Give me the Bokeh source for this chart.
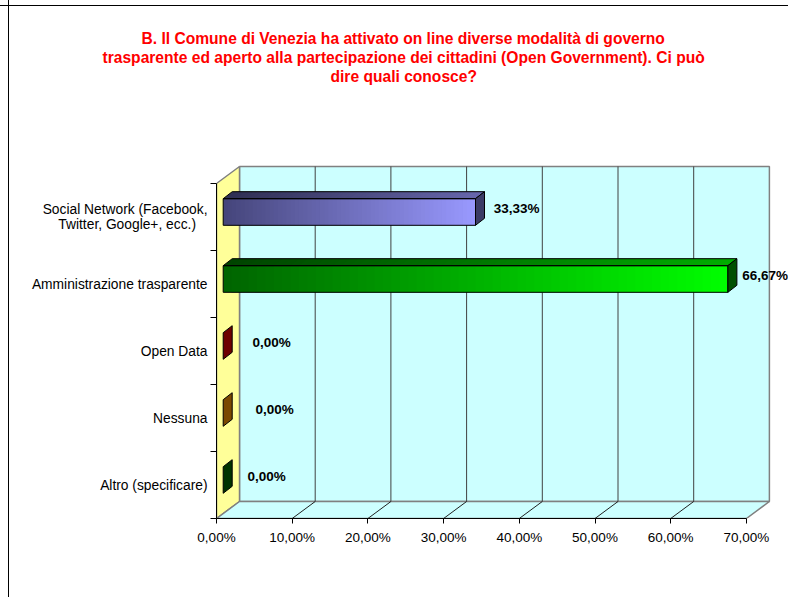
import numpy as np
from bokeh.plotting import figure
from bokeh.models import Range1d, FixedTicker, Title
from bokeh.embed import file_html
from bokeh.resources import INLINE
from bokeh.core.properties import value

# ---------------- data ----------------
categories = [
    "Social Network (Facebook,\nTwitter, Google+, ecc.)\u00a0\u00a0\u00a0",
    "Amministrazione trasparente",
    "Open Data",
    "Nessuna",
    "Altro (specificare)",
]
values = [33.33, 66.67, 0.0, 0.0, 0.0]
value_labels = ["33,33%", "66,67%", "0,00%", "0,00%", "0,00%"]
x_ticks = [0, 10, 20, 30, 40, 50, 60, 70]
x_tick_labels = ["0,00%", "10,00%", "20,00%", "30,00%", "40,00%", "50,00%", "60,00%", "70,00%"]
title_lines = [
    "B. Il Comune di Venezia ha attivato on line diverse modalità di governo",
    "trasparente ed aperto alla partecipazione dei cittadini (Open Government). Ci può",
    "dire quali conosce?",
]

# ---------------- styles / layout ----------------
front_start = ["#45457a", "#006400", "#7a0000", "#7a4a00", "#003300"]
front_end = ["#9999ff", "#00ff00", "#b00000", "#b07000", "#006600"]
side_colors = ["#3b3b66", "#005000", "#6e0000", "#7a4800", "#003300"]
label_nudge_px = [25, 21, 36, 39, 31]
title_offsets = [-75, -114, 114]
FONT = "Liberation Sans"

W, H = 788, 597
FL, FB, FT, FR = 216, 518, 84, 788     # frame left/bottom/top/right in canvas px
PX_X = 7.57   # pixels per percent
PX_Y = 67.0   # pixels per category band
WX, WY = 23 / PX_X, 17 / PX_Y          # wall depth
FX, FY = 6.7 / PX_X, 5 / PX_Y          # bar front offset
BX, BY = 15.7 / PX_X, 12 / PX_Y        # bar back offset
HH = 13.3 / PX_Y                       # half bar height

n = len(categories)
centers = [n - i - 0.5 for i in range(n)]
xmax_val = x_ticks[-1]

p = figure(width=W, height=H, output_backend="svg", toolbar_location=None,
           x_range=Range1d(0, (FR - FL) / PX_X), y_range=Range1d(0, (FB - FT) / PX_Y),
           min_border_left=FL, min_border_right=W - FR, min_border_top=FT, min_border_bottom=H - FB)
p.grid.visible = False
p.outline_line_color = None
p.background_fill_color = None
p.border_fill_color = None
p.styles = {
    "background-color": "white",
    "background-image": ("linear-gradient(to right, transparent 8px, #000 8px, #000 9px, transparent 9px), "
                         "linear-gradient(to bottom, transparent 5px, #000 5px, #000 6px, transparent 6px)"),
}

# ---------------- walls ----------------
p.patch([WX, xmax_val + WX, xmax_val + WX, WX], [WY, WY, n + WY, n + WY],
        fill_color="#ccffff", line_color="#808080", line_width=1.5)
p.patch([0, 0, WX, WX], [0, n, n + WY, WY], fill_color="#ffff99", line_color="#808080", line_width=1.5)
p.patch([0, xmax_val, xmax_val + WX, WX], [0, 0, WY, WY], fill_color="#ccffff",
        line_color="#808080", line_width=1.5)
for t in x_ticks[1:-1]:
    p.line([t + WX, t + WX], [WY, n + WY], line_color="#404040", line_width=1)
    p.line([t, t + WX], [0, WY], line_color="#202020", line_width=1)


def lerp(c0, c1, f):
    a = [int(c0[i:i + 2], 16) for i in (1, 3, 5)]
    b = [int(c1[i:i + 2], 16) for i in (1, 3, 5)]
    return "#%02x%02x%02x" % tuple(int(round(a[k] + (b[k] - a[k]) * f)) for k in range(3))


def darker(c, f):
    a = [int(c[i:i + 2], 16) for i in (1, 3, 5)]
    return "#%02x%02x%02x" % tuple(int(v * f) for v in a)


# ---------------- bars ----------------
NS = 60
for i in range(n):
    v = values[i]
    c = centers[i]
    fb, ft = c + FY - HH, c + FY + HH
    bb, bt = c + BY - HH, c + BY + HH
    if v > 0:
        edges = np.linspace(0, v, NS + 1)
        L, R, cols, tcols = [], [], [], []
        txs, tys = [], []
        for k in range(NS):
            x0 = edges[k]
            x1 = edges[min(k + 2, NS)]
            f = (k + 0.5) / NS
            col = lerp(front_start[i], front_end[i], f)
            L.append(x0 + FX)
            R.append(x1 + FX)
            cols.append(col)
            tcols.append(darker(col, 0.68))
            txs.append([x0 + FX, x1 + FX, x1 + BX, x0 + BX])
            tys.append([ft, ft, bt, bt])
        p.quad(left=L, right=R, bottom=fb, top=ft, fill_color=cols, line_color=None)
        p.patches(txs, tys, fill_color=tcols, line_color=None)
        p.patch([FX, v + FX, v + FX, FX], [fb, fb, ft, ft], fill_color=None, line_color="black", line_width=1)
        p.patch([FX, v + FX, v + BX, BX], [ft, ft, bt, bt], fill_color=None, line_color="black", line_width=1)
    p.patch([v + FX, v + FX, v + BX, v + BX], [fb, ft, bt, bb], fill_color=side_colors[i],
            line_color="black", line_width=1)

lx = [values[i] + label_nudge_px[i] / PX_X for i in range(n)]
ly = [centers[i] + 9 / PX_Y for i in range(n)]
p.text(x=lx, y=ly, text=value_labels, text_font=value(FONT), text_font_style="bold",
       text_font_size="13.5px", text_baseline="middle", text_align="left", text_color="black")

# ---------------- axes ----------------
xa = p.xaxis[0]
xa.ticker = FixedTicker(ticks=x_ticks, minor_ticks=[])
xa.major_label_overrides = {t: lab for t, lab in zip(x_ticks, x_tick_labels)}
xa.bounds = (0, xmax_val)
xa.axis_line_color = "black"
xa.major_tick_out = 5
xa.major_tick_in = 0
xa.minor_tick_out = 0
xa.major_label_standoff = 6
xa.major_label_text_font = FONT
xa.major_label_text_font_size = "13.5px"
xa.major_label_text_color = "black"

ya = p.yaxis[0]
ya.ticker = FixedTicker(ticks=centers, minor_ticks=list(range(n + 1)))
ya.major_label_overrides = {c: lab for c, lab in zip(centers, categories)}
ya.bounds = (0, n)
ya.axis_line_color = "black"
ya.major_tick_out = 0
ya.major_tick_in = 0
ya.minor_tick_out = 6
ya.minor_tick_in = 0
ya.major_label_standoff = 3
ya.major_label_text_font = FONT
ya.major_label_text_font_size = "13.8px"
ya.major_label_text_color = "black"
ya.major_label_text_line_height = 1.05

# ---------------- title ----------------
# p.title is drawn outermost; titles added later are stacked nearer the frame... first added is nearest
tstyle = dict(align="left", standoff=0, text_font=FONT, text_font_style="bold",
              text_font_size="15.6px", text_color="#ff0000", text_line_height=1.2)
p.title.text = title_lines[0]
p.title.offset = title_offsets[0]
for k, v in tstyle.items():
    setattr(p.title, k, v)
p.add_layout(Title(text=title_lines[2], offset=title_offsets[2], **tstyle), "above")
p.add_layout(Title(text=title_lines[1], offset=title_offsets[1], **tstyle), "above")

open("out.html", "w").write(file_html(p, INLINE))
